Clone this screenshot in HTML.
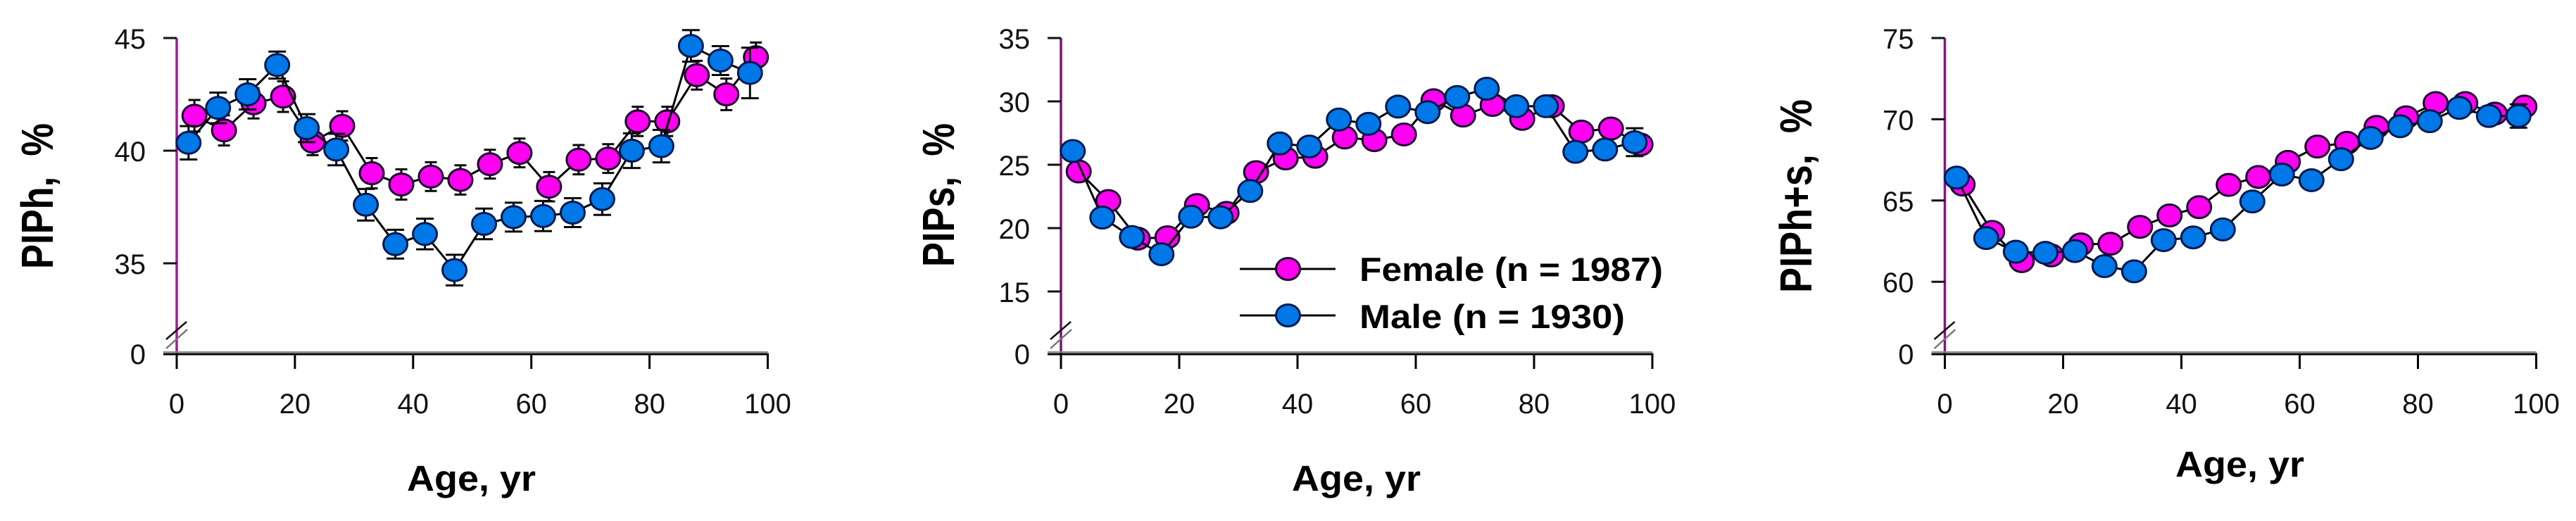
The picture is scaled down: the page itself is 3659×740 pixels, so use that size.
<!DOCTYPE html>
<html lang="en">
<head>
<meta charset="utf-8">
<title>PIP by age and sex</title>
<style>
html,body{margin:0;padding:0;background:#fff;}
svg{display:block;}
text{font-family:"Liberation Sans",sans-serif;fill:#111;}
.tick{font-size:40px;}
.title{font-size:64px;font-weight:bold;fill:#000;}
.xtitle{font-size:51px;font-weight:bold;fill:#000;}
.leg{font-size:47px;font-weight:bold;fill:#000;}
</style>
</head>
<body>
<svg id="chart" xmlns="http://www.w3.org/2000/svg" width="3659" height="740" viewBox="0 0 3659 740">
  <rect width="3659" height="740" fill="#fff"/>

  <g id="p1">
    <text class="title" transform="translate(75,382) rotate(-90)" textLength="207" lengthAdjust="spacingAndGlyphs">PIPh,&#160;&#160;%</text>
    <text class="xtitle" x="578" y="697" textLength="183" lengthAdjust="spacingAndGlyphs">Age, yr</text>
  </g>
  <g id="p2">
    <text class="title" transform="translate(1355,379) rotate(-90)" textLength="204" lengthAdjust="spacingAndGlyphs">PIPs,&#160;&#160;%</text>
    <text class="xtitle" x="1835" y="697" textLength="183" lengthAdjust="spacingAndGlyphs">Age, yr</text>
  </g>
  <g id="p3">
    <text class="title" transform="translate(2573,416) rotate(-90)" textLength="275" lengthAdjust="spacingAndGlyphs">PIPh+s,&#160;&#160;%</text>
    <text class="xtitle" x="3090" y="677" textLength="183" lengthAdjust="spacingAndGlyphs">Age, yr</text>
  </g>

  <g id="legend">
    <g>
      <line x1="1761" y1="382" x2="1897" y2="382" stroke="#000" stroke-width="3"/>
      <ellipse cx="1829.5" cy="382" rx="17" ry="15.5" fill="#ff00f0" stroke="#1c0030" stroke-width="3"/>
      <text class="leg" x="1931" y="399" textLength="431" lengthAdjust="spacingAndGlyphs">Female (n = 1987)</text>
    </g>
    <g>
      <line x1="1761" y1="448" x2="1897" y2="448" stroke="#000" stroke-width="3"/>
      <ellipse cx="1829.5" cy="448" rx="17" ry="15.5" fill="#0078e8" stroke="#001a50" stroke-width="3"/>
      <text class="leg" x="1931" y="466" textLength="377" lengthAdjust="spacingAndGlyphs">Male (n = 1930)</text>
    </g>
  </g>
</svg>

<script>
// Shared categories and tick labels
const femaleAges = [3,8,13,18,23,28,33,38,43,48,53,58,63,68,73,78,83,88,93,98];
const maleAges = [2,7,12,17,22,27,32,37,42,47,52,57,62,67,72,77,82,87,92,97];
const xTicks = [0,20,40,60,80,100];

// PIPh panel
const piphTicks = [45,40,35,0];
const piphFemale = [41.55,40.9,42.1,42.4,40.4,41.1,39.0,38.5,38.85,38.7,39.4,39.9,38.4,39.6,39.65,41.3,41.3,43.35,42.5,44.15];
const piphMale = [40.35,41.9,42.5,43.8,41.0,40.05,37.6,35.85,36.3,34.7,36.75,37.05,37.1,37.25,37.85,40.0,40.2,44.65,44.0,43.45];
const piphFemaleErr = [0.7,0.67,0.67,0.68,0.6,0.65,0.67,0.67,0.64,0.65,0.64,0.64,0.65,0.65,0.64,0.65,0.65,0.64,0.7,0.65];
const piphMaleErr = [0.74,0.68,0.67,0.6,0.62,0.7,0.7,0.64,0.68,0.68,0.68,0.64,0.67,0.64,0.7,0.77,0.72,0.7,0.64,1.12];

// PIPs panel
const pipsTicks = [35,30,25,20,15,0];
const pipsFemale = [24.47,22.14,19.17,19.28,21.82,21.2,24.42,25.5,25.63,27.15,26.94,27.39,30.09,28.88,29.72,28.62,29.62,27.62,27.86,26.6];
const pipsMale = [26.08,20.83,19.3,17.94,20.9,20.85,22.93,26.68,26.44,28.57,28.23,29.59,29.15,30.35,31.0,29.62,29.62,26.02,26.2,26.78];
const pipsFemaleErr = [0.5,0.5,0.5,0.4,0.5,0.5,0.5,0.5,0.5,0.5,0.5,0.5,0.5,0.5,0.5,0.5,0.5,0.5,0.5,0.6];
const pipsMaleErr = [0.5,0.5,0.5,0.5,0.5,0.5,0.5,0.5,0.5,0.5,0.5,0.5,0.5,0.5,0.5,0.5,0.5,0.5,0.5,1.1];

// PIPh+s panel
const piphsTicks = [75,70,65,60,0];
const piphsFemale = [65.98,63.07,61.27,61.62,62.3,62.34,63.38,64.08,64.59,65.96,66.45,67.38,68.32,68.55,69.53,70.12,71.0,71.0,70.35,70.78];
const piphsMale = [66.41,62.69,61.85,61.78,61.89,60.96,60.64,62.56,62.73,63.22,64.94,66.6,66.25,67.54,68.85,69.57,69.88,70.7,70.2,70.2];
const piphsFemaleErr = [0.5,0.5,0.5,0.5,0.5,0.5,0.5,0.5,0.5,0.5,0.5,0.5,0.5,0.5,0.5,0.5,0.5,0.5,0.5,0.5];
const piphsMaleErr = [0.5,0.5,0.5,0.5,0.5,0.5,0.5,0.5,0.5,0.5,0.5,0.5,0.5,0.5,0.5,0.5,0.5,0.5,0.5,0.72];

const NS = 'http://www.w3.org/2000/svg';

function make(parent, tag, attrs, txt) {
  const el = document.createElementNS(NS, tag);
  for (const k in attrs) el.setAttribute(k, attrs[k]);
  if (txt !== undefined) el.textContent = txt;
  parent.appendChild(el);
  return el;
}

function drawSeries(g, ages, values, errs, xs, ys, fill, edge, capHalf, label) {
  const pts = ages.map(function (a, i) { return xs(a) + ',' + ys(values[i]); }).join(' ');
  const line = make(g, 'polyline', {points: pts, fill: 'none', stroke: '#000', 'stroke-width': 3});
  
  
  ages.forEach(function (a, i) {
    const x = xs(a);
    const hi = ys(values[i] + errs[i]);
    const lo = ys(values[i] - errs[i]);
    const bar = make(g, 'path', {
      d: 'M' + x + ' ' + hi + 'V' + lo + 'M' + (x - capHalf) + ' ' + hi + 'H' + (x + capHalf) + 'M' + (x - capHalf) + ' ' + lo + 'H' + (x + capHalf),
      fill: 'none', stroke: '#0a0a0a', 'stroke-width': 3
    });
    
    
  });
  ages.forEach(function (a, i) {
    const dot = make(g, 'ellipse', {
      cx: xs(a), cy: ys(values[i]), rx: 17, ry: 15.5,
      fill: fill, stroke: edge, 'stroke-width': 3
    });
    
    
  });
}

function drawPanel(id, x0, xWidth, ticks, pxPer5, axisColor, female, femaleErr, male, maleErr) {
  const g = document.getElementById(id);
  const top = 54, base = 502;
  const maxV = ticks[0];
  const xs = function (a) { return x0 + a * xWidth / 100; };
  const ys = function (v) { return v === 0 ? base : top + (maxV - v) * pxPer5 / 5; };

  const yAxis = make(g, 'line', {x1: x0, y1: top, x2: x0, y2: base, stroke: axisColor, 'stroke-width': 3.5});
  
  

  ticks.forEach(function (t) {
    const y = ys(t);
    if (t !== 0) {
      const tk = make(g, 'line', {x1: x0 - 19, y1: y, x2: x0, y2: y, stroke: '#111', 'stroke-width': 3});
      
      
    }
    const lb = make(g, 'text', {x: x0 - 44, y: y + 15, 'text-anchor': 'end', 'class': 'tick'}, String(t));
    
    
  });

  const brk1 = make(g, 'line', {x1: x0 - 15, y1: 482, x2: x0 + 14, y2: 457, stroke: '#111', 'stroke-width': 2.5});
  
  
  const brk2 = make(g, 'line', {x1: x0 - 15, y1: 495, x2: x0 + 15, y2: 468, stroke: '#777', 'stroke-width': 2.5});
  
  

  const shadow = make(g, 'line', {x1: x0 - 19, y1: 500, x2: x0 + xWidth, y2: 500, stroke: '#888', 'stroke-width': 2});
  
  
  const xAxis = make(g, 'line', {x1: x0 - 19, y1: base + 1, x2: x0 + xWidth + 1.5, y2: base + 1, stroke: '#000', 'stroke-width': 3});
  
  

  xTicks.forEach(function (t) {
    const x = xs(t);
    const tk = make(g, 'line', {x1: x, y1: base, x2: x, y2: base + 22, stroke: '#000', 'stroke-width': 3});
    
    
    const lb = make(g, 'text', {x: x, y: 587, 'text-anchor': 'middle', 'class': 'tick'}, String(t));
    
    
  });

  drawSeries(g, femaleAges, female, femaleErr, xs, ys, '#ff00f0', '#1c0030', 8.5, 'female');
  drawSeries(g, maleAges, male, maleErr, xs, ys, '#0078e8', '#001a50', 12.5, 'male');
}

drawPanel('p1', 251, 839.5, piphTicks, 160, '#a8189c', piphFemale, piphFemaleErr, piphMale, piphMaleErr);
drawPanel('p2', 1507, 840, pipsTicks, 90, '#7d1470', pipsFemale, pipsFemaleErr, pipsMale, pipsMaleErr);
drawPanel('p3', 2762.5, 840, piphsTicks, 115.4, '#8a1480', piphsFemale, piphsFemaleErr, piphsMale, piphsMaleErr);

// Keep the legend on top of the panels
const svgRoot = document.getElementById('chart');
svgRoot.appendChild(document.getElementById('legend'));
</script>
</body>
</html>
